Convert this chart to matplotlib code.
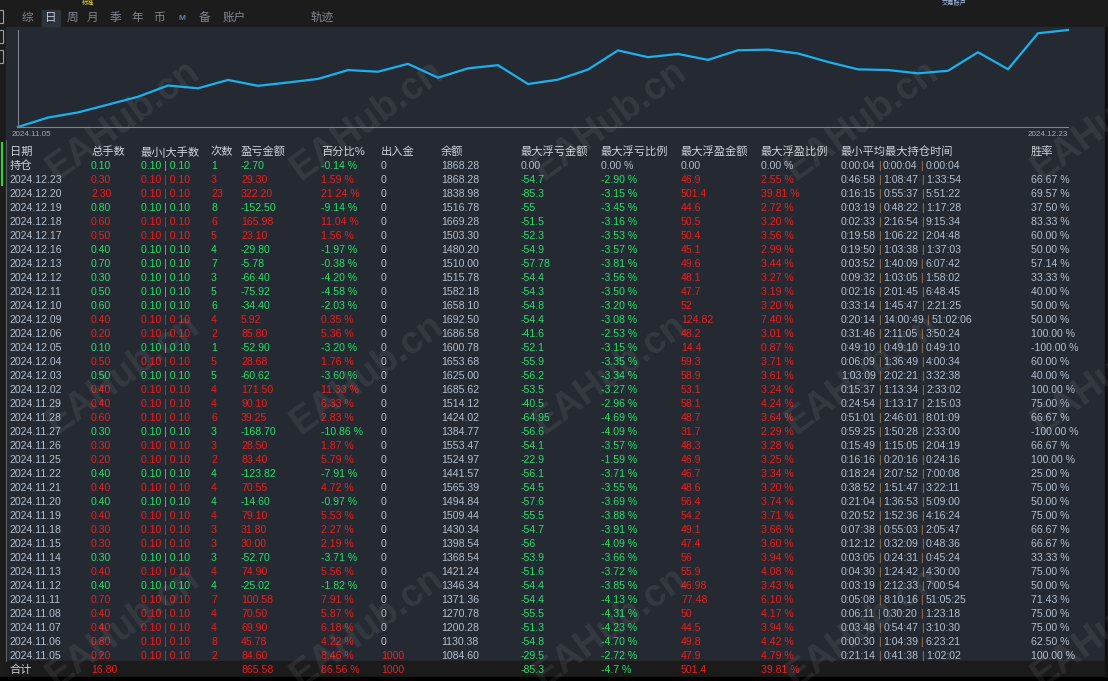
import matplotlib
matplotlib.use("Agg")
import matplotlib.pyplot as plt
from matplotlib.patches import Rectangle

plt.rcParams['font.family'] = ['Liberation Sans', 'Noto Sans CJK SC', 'DejaVu Sans']

# ---- data (rows newest first) ----
dates = ["2024.12.23", "2024.12.20", "2024.12.19", "2024.12.18", "2024.12.17", "2024.12.16",
         "2024.12.13", "2024.12.12", "2024.12.11", "2024.12.10", "2024.12.09", "2024.12.06",
         "2024.12.05", "2024.12.04", "2024.12.03", "2024.12.02", "2024.11.29", "2024.11.28",
         "2024.11.27", "2024.11.26", "2024.11.25", "2024.11.22", "2024.11.21", "2024.11.20",
         "2024.11.19", "2024.11.18", "2024.11.15", "2024.11.14", "2024.11.13", "2024.11.12",
         "2024.11.11", "2024.11.08", "2024.11.07", "2024.11.06", "2024.11.05"]
total_lots = [0.30, 2.30, 0.80, 0.60, 0.50, 0.40, 0.70, 0.30, 0.50, 0.60, 0.40, 0.20,
              0.10, 0.50, 0.50, 0.40, 0.40, 0.60, 0.30, 0.30, 0.20, 0.40, 0.40, 0.40,
              0.40, 0.30, 0.30, 0.30, 0.40, 0.40, 0.70, 0.40, 0.40, 0.80, 0.20]
min_lot = 0.10
max_lot = 0.10
trades = [3, 23, 8, 6, 5, 4, 7, 3, 5, 6, 4, 2, 1, 5, 5, 4, 4, 6, 3, 3, 2, 4, 4, 4,
          4, 3, 3, 3, 4, 4, 7, 4, 4, 8, 2]
pnl = [29.30, 322.20, -152.50, 165.98, 23.10, -29.80, -5.78, -66.40, -75.92, -34.40,
       5.92, 85.80, -52.90, 28.68, -60.62, 171.50, 90.10, 39.25, -168.70, 28.50, 83.40,
       -123.82, 70.55, -14.60, 79.10, 31.80, 30.00, -52.70, 74.90, -25.02, 100.58,
       70.50, 69.90, 45.78, 84.60]
pnl_pct = [1.59, 21.24, -9.14, 11.04, 1.56, -1.97, -0.38, -4.20, -4.58, -2.03, 0.35,
           5.36, -3.20, 1.76, -3.60, 11.33, 6.33, 2.83, -10.86, 1.87, 5.79, -7.91, 4.72,
           -0.97, 5.53, 2.27, 2.19, -3.71, 5.56, -1.82, 7.91, 5.87, 6.18, 4.22, 8.46]
deposit = [0] * 34 + [1000]
balance = [1868.28, 1838.98, 1516.78, 1669.28, 1503.30, 1480.20, 1510.00, 1515.78,
           1582.18, 1658.10, 1692.50, 1686.58, 1600.78, 1653.68, 1625.00, 1685.62,
           1514.12, 1424.02, 1384.77, 1553.47, 1524.97, 1441.57, 1565.39, 1494.84,
           1509.44, 1430.34, 1398.54, 1368.54, 1421.24, 1346.34, 1371.36, 1270.78,
           1200.28, 1130.38, 1084.60]
float_loss = [-54.7, -85.3, -55, -51.5, -52.3, -54.9, -57.78, -54.4, -54.3, -54.8, -54.4,
              -41.6, -52.1, -55.9, -56.2, -53.5, -40.5, -64.95, -56.6, -54.1, -22.9,
              -56.1, -54.5, -57.6, -55.5, -54.7, -56, -53.9, -51.6, -54.4, -54.4, -55.5,
              -51.3, -54.8, -29.5]
float_loss_pct = [-2.90, -3.15, -3.45, -3.16, -3.53, -3.57, -3.81, -3.56, -3.50, -3.20,
                  -3.08, -2.53, -3.15, -3.35, -3.34, -3.27, -2.96, -4.69, -4.09, -3.57,
                  -1.59, -3.71, -3.55, -3.69, -3.88, -3.91, -4.09, -3.66, -3.72, -3.85,
                  -4.13, -4.31, -4.23, -4.70, -2.72]
float_profit = [46.9, 501.4, 44.6, 50.5, 50.4, 45.1, 49.6, 48.1, 47.7, 52, 124.82, 48.2,
                14.4, 59.3, 58.9, 53.1, 58.1, 48.7, 31.7, 48.3, 46.9, 46.7, 48.6, 56.4,
                54.2, 49.1, 47.4, 56, 55.9, 46.98, 77.48, 50, 44.5, 49.8, 47.9]
float_profit_pct = [2.55, 39.81, 2.72, 3.20, 3.56, 2.99, 3.44, 3.27, 3.19, 3.20, 7.40,
                    3.01, 0.87, 3.71, 3.61, 3.24, 4.24, 3.64, 2.29, 3.28, 3.25, 3.34,
                    3.20, 3.74, 3.71, 3.66, 3.60, 3.94, 4.08, 3.43, 6.10, 4.17, 3.94,
                    4.42, 4.79]
hold_min = ["0:46:58", "0:16:15", "0:03:19", "0:02:33", "0:19:58", "0:19:50", "0:03:52",
            "0:09:32", "0:02:16", "0:33:14", "0:20:14", "0:31:46", "0:49:10", "0:06:09",
            "1:03:09", "0:15:37", "0:24:54", "0:51:01", "0:59:25", "0:15:49", "0:16:16",
            "0:18:24", "0:38:52", "0:21:04", "0:20:52", "0:07:38", "0:12:12", "0:03:05",
            "0:04:30", "0:03:19", "0:05:08", "0:06:11", "0:03:48", "0:00:30", "0:21:14"]
hold_avg = ["1:08:47", "0:55:37", "0:48:22", "2:16:54", "1:06:22", "1:03:38", "1:40:09",
            "1:03:05", "2:01:45", "1:45:47", "14:00:49", "2:11:05", "0:49:10", "1:36:49",
            "2:02:21", "1:13:34", "1:13:17", "2:46:01", "1:50:28", "1:15:05", "0:20:16",
            "2:07:52", "1:51:47", "1:36:53", "1:52:36", "0:55:03", "0:32:09", "0:24:31",
            "1:24:42", "2:12:33", "8:10:16", "0:30:20", "0:54:47", "1:04:39", "0:41:38"]
hold_max = ["1:33:54", "5:51:22", "1:17:28", "9:15:34", "2:04:48", "1:37:03", "6:07:42",
            "1:58:02", "6:48:45", "2:21:25", "51:02:06", "3:50:24", "0:49:10", "4:00:34",
            "3:32:38", "2:33:02", "2:15:03", "8:01:09", "2:33:00", "2:04:19", "0:24:16",
            "7:00:08", "3:22:11", "5:09:00", "4:16:24", "2:05:47", "0:48:36", "0:45:24",
            "4:30:00", "7:00:54", "51:05:25", "1:23:18", "3:10:30", "6:23:21", "1:02:02"]
win_rate = [66.67, 69.57, 37.50, 83.33, 60.00, 50.00, 57.14, 33.33, 40.00, 50.00, 50.00,
            100.00, -100.00, 60.00, 40.00, 100.00, 75.00, 66.67, -100.00, 66.67, 100.00,
            25.00, 75.00, 50.00, 75.00, 66.67, 66.67, 33.33, 75.00, 50.00, 71.43, 75.00,
            75.00, 62.50, 100.00]

# open position row and totals row
open_lots, open_trades, open_pnl, open_pct, open_balance = 0.10, 1, -2.70, -0.14, 1868.28
open_hold = ["0:00:04", "0:00:04", "0:00:04"]
sum_lots, sum_pnl, sum_pct, sum_deposit = 16.80, 865.58, 86.56, 1000
sum_float_loss, sum_float_loss_pct, sum_float_profit, sum_float_profit_pct = -85.3, -4.7, 501.4, 39.81

headers = ["日期", "总手数", "最小|大手数", "次数", "盈亏金额", "百分比%", "出入金", "余额",
           "最大浮亏金额", "最大浮亏比例", "最大浮盈金额", "最大浮盈比例", "最小平均最大持仓时间", "胜率"]
tabs = ["综", "日", "周", "月", "季", "年", "币", "M", "备", "账户", "轨迹"]

# ---- style ----
W, H = 1108, 681
BG_TOP = '#1c1c1c'
PANEL = '#252a32'
GREEN = '#1ee26c'
RED = '#f21b1b'
GRAY = '#b3bfcf'
HEAD = '#cdd2d9'
SEP = '#9c7c56'
NUM = 7.6
CJK = 8.1

col_x = [10, 91, 141, 211, 241, 321, 381, 441, 521, 601, 681, 761, 841, 1031]
row0_y = 151.7
row_h = 14.0

fig = plt.figure(figsize=(W / 100, H / 100), dpi=100)
fig.patch.set_facecolor(BG_TOP)
ax = fig.add_axes([0, 0, 1, 1])
ax.set_xlim(0, W)
ax.set_ylim(H, 0)
ax.axis('off')

ax.add_patch(Rectangle((6, 27), 1099, 634, color=PANEL, zorder=0))
ax.add_patch(Rectangle((6, 661), 1099, 16, color='#1b1b1b', zorder=0))
ax.add_patch(Rectangle((0, 677), W, 4, color='black', zorder=0))
ax.add_patch(Rectangle((1105, 27), 3, 650, color='#111111', zorder=0))
ax.plot([5.5, 5.5], [140, 661], color='#5a5f66', lw=0.8)
ax.plot([1.5, 1.5], [143, 185], color='#22dd33', lw=1.5)
for by in [10, 30, 50]:
    ax.add_patch(Rectangle((-3, by), 6, 13, fill=False, ec='#9aa0a8', lw=0.8))

# small texts at the very top edge
ax.text(82, 3, "标准", color='#f0e020', fontsize=4.5, va='center')
ax.text(942, 3, "交易账户", color='#a8c8f0', fontsize=4.5, va='center')

# tab bar
tab_x = [27, 51, 72, 93, 115, 137, 159, 182, 204, 234, 322]
ax.add_patch(Rectangle((42, 10), 18, 16, color='#2d333d', zorder=1))
for name, tx in zip(tabs, tab_x):
    if name == "M":
        ax.text(tx, 18, name, color='#6a7da8', fontsize=6, ha='center', va='center', weight='bold')
    else:
        c = '#c3cad4' if name == "日" else '#80868f'
        ax.text(tx, 18, name, color=c, fontsize=8.4, ha='center', va='center', zorder=2)

# equity chart
series = [balance[-1] - pnl[-1]] + balance[::-1]
cx0, cx1, cy0, cy1 = 18, 1068, 30, 127
axc = fig.add_axes([cx0 / W, 1 - cy1 / H, (cx1 - cx0) / W, (cy1 - cy0) / H])
axc.set_facecolor('none')
axc.plot(range(len(series)), series, color='#19b2ef', lw=1.6, clip_on=False)
axc.set_xlim(0, len(series) - 1)
axc.set_ylim(min(series), max(series))
for s in ['top', 'right']:
    axc.spines[s].set_visible(False)
for s in ['left', 'bottom']:
    axc.spines[s].set_color('#7e848c')
    axc.spines[s].set_linewidth(0.8)
axc.set_xticks([])
axc.set_yticks([])
ax.text(cx0 - 6, 134, dates[-1], color='#a2aab6', fontsize=5.8, va='center', ha='left')
ax.text(cx1, 134, dates[0], color='#a2aab6', fontsize=5.8, va='center', ha='right')


def put(x, y, s, c, size=NUM):
    return ax.text(x, y, s, color=c, fontsize=size, va='center', ha='left')


def put_hold(x, y, parts, c):
    t = put(x, y, parts[0], c)
    for p in parts[1:]:
        t = ax.annotate("|", xy=(1, 0.5), xycoords=t, xytext=(1.7, 0), textcoords='offset points',
                        color=SEP, fontsize=NUM, va='center', ha='left')
        t = ax.annotate(p, xy=(1, 0.5), xycoords=t, xytext=(1.7, 0), textcoords='offset points',
                        color=c, fontsize=NUM, va='center', ha='left')


# header
for h, x in zip(headers, col_x):
    put(x, row0_y, h, HEAD, CJK)

# open position row
y = row0_y + row_h
oc = GREEN if open_pnl < 0 else RED
put(col_x[0], y, "持仓", HEAD, CJK)
put(col_x[1], y, f"{open_lots:.2f}", oc)
put(col_x[2], y, f"{min_lot:.2f} | {max_lot:.2f}", oc)
put(col_x[3], y, f"{open_trades}", oc)
put(col_x[4], y, f"{open_pnl:.2f}", oc)
put(col_x[5], y, f"{open_pct:.2f} %", oc)
put(col_x[6], y, "0", GRAY)
put(col_x[7], y, f"{open_balance:.2f}", GRAY)
put(col_x[8], y, "0.00", GRAY)
put(col_x[9], y, "0.00 %", GRAY)
put(col_x[10], y, "0.00", GRAY)
put(col_x[11], y, "0.00 %", GRAY)
put_hold(col_x[12], y, open_hold, GRAY)

# daily rows
for i, d in enumerate(dates):
    y = row0_y + (i + 2) * row_h
    c = GREEN if pnl[i] < 0 else RED
    put(col_x[0], y, d, GRAY)
    put(col_x[1], y, f"{total_lots[i]:.2f}", c)
    put(col_x[2], y, f"{min_lot:.2f} | {max_lot:.2f}", c)
    put(col_x[3], y, f"{trades[i]}", c)
    put(col_x[4], y, f"{pnl[i]:.2f}", c)
    put(col_x[5], y, f"{pnl_pct[i]:.2f} %", c)
    put(col_x[6], y, f"{deposit[i]}", RED if deposit[i] else GRAY)
    put(col_x[7], y, f"{balance[i]:.2f}", GRAY)
    put(col_x[8], y, f"{float_loss[i]:g}", GREEN)
    put(col_x[9], y, f"{float_loss_pct[i]:.2f} %", GREEN)
    put(col_x[10], y, f"{float_profit[i]:g}", RED)
    put(col_x[11], y, f"{float_profit_pct[i]:.2f} %", RED)
    put_hold(col_x[12], y, [hold_min[i], hold_avg[i], hold_max[i]], GRAY)
    put(col_x[13], y, f"{win_rate[i]:.2f} %", GRAY)

# totals row
y = row0_y + (len(dates) + 2) * row_h
put(col_x[0], y, "合计", HEAD, CJK)
put(col_x[1], y, f"{sum_lots:.2f}", RED)
put(col_x[4], y, f"{sum_pnl:.2f}", RED)
put(col_x[5], y, f"{sum_pct:.2f} %", RED)
put(col_x[6], y, f"{sum_deposit}", RED)
put(col_x[8], y, f"{sum_float_loss:g}", GREEN)
put(col_x[9], y, f"{sum_float_loss_pct:g} %", GREEN)
put(col_x[10], y, f"{sum_float_profit:g}", RED)
put(col_x[11], y, f"{sum_float_profit_pct:.2f} %", RED)

# watermarks
for wy in [120, 374, 627]:
    for wx in [123, 367, 610, 862, 1108]:
        ax.text(wx, wy, "EAHub.cn", rotation=36, fontsize=27, weight='bold', color='white',
                alpha=0.075, ha='center', va='center', rotation_mode='anchor', zorder=5)

fig.savefig("out.png", dpi=100, facecolor=fig.get_facecolor())
